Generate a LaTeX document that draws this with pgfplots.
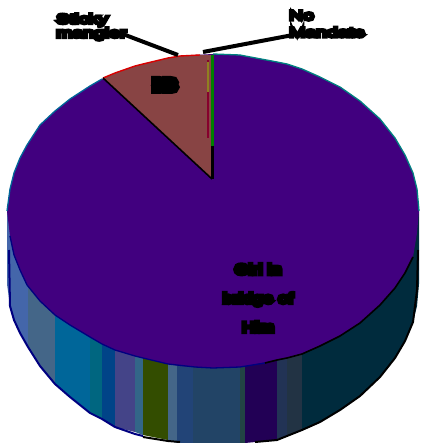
\documentclass[border=0pt]{standalone}
\usepackage{pgfplots}
\usepackage{fontspec}
\pgfplotsset{compat=1.18}
\newfontfamily\blob[FakeBold=28,FakeStretch=1.5]{Liberation Sans}
\newfontfamily\blobm[FakeBold=30,FakeStretch=1.3]{Liberation Sans}
\newfontfamily\blobx[FakeBold=60,FakeStretch=1.2]{Liberation Sans}

\definecolor{top}{HTML}{41007F}
\definecolor{slice}{HTML}{884444}
\definecolor{sa}{HTML}{4466AA}
\definecolor{sb}{HTML}{446688}
\definecolor{sc}{HTML}{006699}
\definecolor{sd}{HTML}{006680}
\definecolor{se}{HTML}{004488}
\definecolor{sf}{HTML}{444488}
\definecolor{sg}{HTML}{336688}
\definecolor{sh}{HTML}{334D00}
\definecolor{si}{HTML}{224477}
\definecolor{sj}{HTML}{224466}
\definecolor{sk}{HTML}{224444}
\definecolor{sl}{HTML}{220055}
\definecolor{sm}{HTML}{223355}
\definecolor{sn}{HTML}{223344}
\definecolor{so}{HTML}{002B3D}

\begin{document}
\begin{tikzpicture}[x=1bp,y=1bp]
  \path[use as bounding box] (0,0) rectangle (420,443);
  \begin{axis}[
      at={(0,0)},
      anchor=south west,
      width=420bp,
      height=443bp,
      scale only axis,
      hide axis,
      xmin=0, xmax=420,
      ymin=0, ymax=443,
      y dir=reverse,
    ]

    %% side bands, top hidden under the lid %%
    \addplot[fill=sa,draw=none] coordinates {(7,211)(7,284)(10,306)(14,320)(20,333)(28,347)(28,211)};
    \addplot[fill=sb,draw=none] coordinates {(28,211)(28,347)(40,366)(55,384)(55,211)};
    \addplot[fill=sc,draw=none] coordinates {(55,211)(55,384)(70,397)(90,413)(90,211)};
    \addplot[fill=sd,draw=none] coordinates {(90,211)(90,413)(102,419)(102,211)};
    \addplot[fill=se,draw=none] coordinates {(102,211)(102,419)(115,427)(115,211)};
    \addplot[fill=sf,draw=none] coordinates {(115,211)(115,427)(135,432)(135,211)};
    \addplot[fill=sg,draw=none] coordinates {(135,211)(135,432)(143,435)(143,211)};
    \addplot[fill=sh,draw=none] coordinates {(143,211)(143,435)(168,440)(168,211)};
    \addplot[fill=sb,draw=none] coordinates {(168,211)(168,440)(177,443)(177,211)};
    \addplot[fill=si,draw=none] coordinates {(177,211)(177,443)(193,443)(193,211)};
    \addplot[fill=sj,draw=none] coordinates {(193,211)(193,443)(213,443)(240,443)(240,211)};
    \addplot[fill=sk,draw=none] coordinates {(240,211)(240,443)(245,443)(245,211)};
    \addplot[fill=sl,draw=none] coordinates {(245,211)(245,443)(277,440)(277,211)};
    \addplot[fill=sm,draw=none] coordinates {(277,211)(277,439)(287,436)(287,211)};
    \addplot[fill=sn,draw=none] coordinates {(287,211)(287,436)(302,430)(302,211)};
    \addplot[fill=so,draw=none] coordinates {(302,211)(302,430)(320,422)(340,410)(360,396)(380,377)(395,358)(405,341)(413,322)(417,306)(419,284)(419,211)};

    %% outer edge of the side %%
    \addplot[color=blue!50!black,line width=2bp] coordinates {(9,250)(10,306)(14,320)(20,333)(28,347)(40,366)(55,384)(70,397)(90,413)(102,419)(115,427)(135,434)(143,436)};
    \addplot[black,line width=2bp] coordinates {(143,437)(168,441)(180,442)};
    \addplot[black,line width=2bp] coordinates {(255,442)(277,440)(302,430)(320,422)(340,410)(360,396)(380,377)(395,358)(405,341)(413,322)(417,290)(418,250)};

    %% lid %%
    \addplot[fill=top,draw=none] coordinates {
      (7,211)(10,189)(14,173)(20,158)(27,145)(40,125)(55,111)(70,99)(90,86)(102,79)(115,73)(135,66)(143,64)(168,58)(180,56)(195,55)(213,54)(240,55)(245,56)(277,62)(287,64)(302,69)(320,77)(340,87)(360,101)(380,119)(395,138)(405,155)(413,173)(417,189)(419,211)
      (417,233)(413,257)(405,273)(395,288)(380,305)(360,323)(340,336)(320,346)(302,354)(287,358)(277,360)(245,366)(240,367)(213,368)(195,367)(180,366)(168,364)(143,358)(135,356)(115,350)(102,344)(90,337)(70,325)(55,315)(40,301)(27,285)(20,270)(14,255)(10,236)
    };

    %% rim of the lid %%
    \addplot[color=teal!80!blue,line width=1.3bp] coordinates {(7,211)(10,189)(14,173)(20,158)(27,145)(40,125)(55,111)(70,99)(90,86)(102,79)};
    \addplot[color=teal,line width=1.3bp] coordinates {(213,54)(240,55)(245,56)(277,62)(287,64)(302,69)(320,77)(340,87)(360,101)(380,119)(395,138)(405,155)(413,173)(417,189)(419,211)};
    \addplot[color=blue!50!black,line width=1.3bp] coordinates {(10,236)(14,255)(20,270)(27,285)(40,301)(55,315)(70,325)(90,337)(102,344)(115,350)(135,356)(143,358)(168,364)(195,367)(213,368)(240,367)(265,363)};
    \addplot[black,line width=1.6bp] coordinates {(265,363)(277,360)(287,358)(302,354)(320,346)(340,336)(360,323)(380,305)(395,288)(405,273)(413,257)};

    %% brown slice %%
    \addplot[fill=slice,draw=none] coordinates {(212,179)(103,78)(115,73)(135,66)(143,64)(168,58)(180,56)(195,55)(212,55)};
    \addplot[color=red!85!black,line width=1.4bp] coordinates {(103,78)(115,73)(135,66)(143,64)(168,58)(180,56)(200,55)};
    \addplot[black,line width=1.6bp] coordinates {(103,78)(212,179)};
    \addplot[color=purple!70!black,line width=1.5bp] coordinates {(208,60)(208,138)};
    \addplot[color=olive!70!slice,line width=1.5bp] coordinates {(208,62)(208,92)};
    \addplot[color=green!50!black,line width=3bp] coordinates {(212,55)(212,146)};
    \addplot[black,line width=3bp] coordinates {(212,146)(212,179)};

    %% leaders %%
    \addplot[black,line width=4bp] coordinates {(120,33)(178,55)};
    \addplot[black,line width=4bp] coordinates {(293,35)(203,52)};

    \node[font=\blob\fontsize{13}{14}\selectfont,align=left,anchor=west,inner sep=0pt] at (axis cs:56,27) {Sticky\\ mangler};
    \node[font=\blob\fontsize{13}{17}\selectfont,align=left,anchor=west,inner sep=0pt] at (axis cs:289,24) {No\\ Mandate};
    \node[font=\blobm\fontsize{14}{29}\selectfont,align=center,anchor=center,inner sep=0pt] at (axis cs:258,298) {Girl in\\ bridge of\\ Him};
    \node[font=\blobx\fontsize{14}{14}\selectfont,anchor=center,inner sep=0pt] at (axis cs:165,85) {BB};
  \end{axis}
\end{tikzpicture}
\end{document}
